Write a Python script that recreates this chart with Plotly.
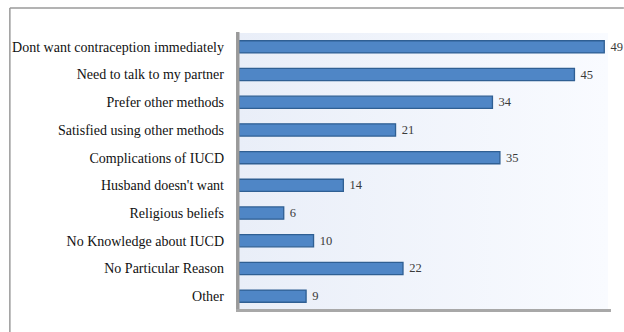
import plotly.graph_objects as go

# Reasons given for not choosing IUCD (number of respondents)
reasons = [
    "Dont want contraception immediately",
    "Need to talk to my partner",
    "Prefer other methods",
    "Satisfied using other methods",
    "Complications of IUCD",
    "Husband doesn't want",
    "Religious beliefs",
    "No Knowledge about IUCD",
    "No Particular Reason",
    "Other",
]
counts = [49, 45, 34, 21, 35, 14, 6, 10, 22, 9]

W, H = 624, 332
ML, MR, MT, MB = 236, 16, 33, 22
PW, PH = W - ML - MR, H - MT - MB


def px_x(p):
    return (p - ML) / PW


def px_y(p):
    return (H - MB - p) / PH


fig = go.Figure()

# soft blue-to-white backdrop of the plot area (drawn on the base axes)
fig.add_trace(go.Scatter(
    x=[0, 1, 1, 0, 0], y=[0, 0, 1, 1, 0],
    xaxis="x", yaxis="y",
    mode="lines", line=dict(width=0),
    fill="toself",
    fillgradient=dict(type="horizontal",
                      colorscale=[[0, "#e9eef8"], [1, "#f9fbff"]]),
    hoverinfo="skip", showlegend=False,
))

# the bars sit on the overlaid axes so they are drawn above the backdrop
fig.add_trace(go.Bar(
    x=counts, y=reasons, orientation="h",
    xaxis="x2", yaxis="y2",
    width=0.44,
    marker=dict(color="#4f86c6", line=dict(color="#2f5f93", width=1.3)),
    text=[str(c) for c in counts],
    texttemplate="\u00a0%{text}",
    textposition="outside",
    constraintext="none",
    textfont=dict(family="Liberation Serif", size=12.5, color="#3a3a3a"),
    cliponaxis=False,
    hoverinfo="skip", showlegend=False,
))

shapes = [
    # left wall
    dict(type="rect", xref="paper", yref="paper",
         x0=px_x(233), x1=px_x(236.5), y0=px_y(312), y1=px_y(32),
         fillcolor="#9a9a9a", line=dict(width=0), layer="above"),
    # floor
    dict(type="rect", xref="paper", yref="paper",
         x0=px_x(233), x1=px_x(611), y0=px_y(312), y1=px_y(309),
         fillcolor="#a8a8a8", line=dict(width=0), layer="above"),
    # outer frame (top and left edges)
    dict(type="line", xref="paper", yref="paper",
         x0=px_x(5), x1=px_x(W), y0=px_y(8), y1=px_y(8),
         line=dict(color="#9a9a9a", width=1.5)),
    dict(type="line", xref="paper", yref="paper",
         x0=px_x(5), x1=px_x(5), y0=px_y(8), y1=px_y(H),
         line=dict(color="#9a9a9a", width=1.5)),
]

fig.update_layout(
    width=W, height=H,
    margin=dict(l=ML, r=MR, t=MT, b=MB, pad=0),
    paper_bgcolor="white",
    plot_bgcolor="rgba(0,0,0,0)",
    bargap=0.56,
    xaxis=dict(range=[0, 1], visible=False, fixedrange=True),
    yaxis=dict(range=[0, 1], visible=False, fixedrange=True),
    xaxis2=dict(range=[0, 49.5], visible=False, overlaying="x",
                fixedrange=True),
    yaxis2=dict(autorange="reversed", overlaying="y", side="left",
                showgrid=False, zeroline=False, showline=False, ticks="",
                ticklabelstandoff=14, fixedrange=True,
                tickfont=dict(family="Liberation Serif", size=14,
                              color="#111111")),
    shapes=shapes,
)

fig.write_html("out.html")
